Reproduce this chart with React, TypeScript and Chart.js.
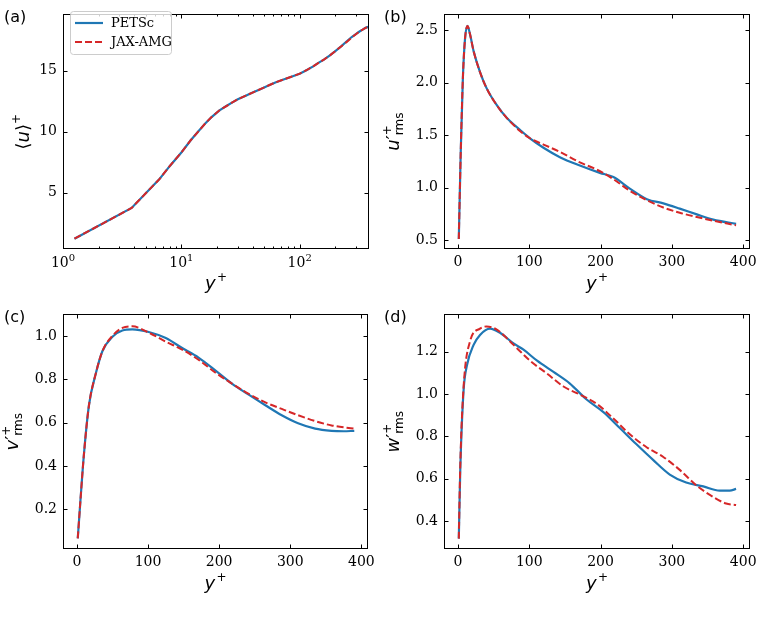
import React, { useEffect, useRef } from 'react';
import { Chart, registerables } from 'chart.js';

Chart.register(...registerables);

const BLUE = '#1f77b4';
const RED = '#d62728';
const NAME_PETSC = 'PETSc';
const NAME_JAX = 'JAX-AMG';

// (a) mean velocity profile
const yPlusMean = [1.25, 3.8, 6.5, 8, 10, 12, 14, 16, 18, 21, 24, 27, 30, 35, 40, 47, 55, 63, 72, 85, 100, 115, 130, 145, 160, 180, 200, 225, 250, 275, 300, 320, 340, 360, 385];
const uMeanPETSc = [1.24, 3.76, 6.1, 7.2, 8.3, 9.3, 10.05, 10.7, 11.2, 11.75, 12.1, 12.4, 12.65, 12.95, 13.2, 13.5, 13.8, 14.05, 14.25, 14.5, 14.75, 15.05, 15.35, 15.65, 15.9, 16.25, 16.6, 17.0, 17.4, 17.75, 18.0, 18.2, 18.35, 18.5, 18.6];
const uMeanJAX = [1.24, 3.76, 6.1, 7.2, 8.3, 9.3, 10.05, 10.7, 11.2, 11.75, 12.1, 12.4, 12.65, 12.95, 13.2, 13.5, 13.8, 14.05, 14.25, 14.5, 14.75, 15.05, 15.35, 15.65, 15.9, 16.25, 16.6, 17.0, 17.35, 17.7, 18.0, 18.2, 18.35, 18.5, 18.6];
const meanXTicks = [1, 10, 100];
const meanXTickExp = ['0', '1', '2'];
const meanXMinor = [2, 3, 4, 5, 6, 7, 8, 9, 20, 30, 40, 50, 60, 70, 80, 90, 200, 300];
const meanYTicks = [5, 10, 15];

// (b) u'rms
const yPlusUrmsPETSc = [1.25, 4, 7, 10, 13.5, 17, 22, 31, 40, 55, 69, 87, 101, 120, 143, 171, 199, 218, 241, 265, 288, 311, 335, 358, 390];
const urmsPETSc = [0.51, 1.35, 2.05, 2.42, 2.54, 2.46, 2.3, 2.1, 1.95, 1.78, 1.66, 1.55, 1.47, 1.38, 1.29, 1.21, 1.14, 1.1, 0.99, 0.89, 0.85, 0.8, 0.745, 0.695, 0.655];
const yPlusUrmsJAX = [1.25, 4, 7, 10, 13.5, 17, 22, 31, 40, 55, 69, 87, 101, 120, 143, 171, 195, 218, 241, 265, 288, 311, 335, 358, 390];
const urmsJAX = [0.51, 1.35, 2.05, 2.42, 2.54, 2.46, 2.3, 2.1, 1.95, 1.78, 1.66, 1.54, 1.47, 1.41, 1.34, 1.24, 1.17, 1.08, 0.97, 0.88, 0.81, 0.76, 0.72, 0.685, 0.64];
const urmsYTicks = [0.5, 1.0, 1.5, 2.0, 2.5];

// (c) v'rms
const yPlusVrmsPETSc = [1.25, 5, 10, 17, 26.6, 36, 50, 64, 78, 101, 125, 148, 171, 195, 218, 241, 265, 288, 311, 335, 358, 375, 390];
const vrmsPETSc = [0.066, 0.24, 0.457, 0.68, 0.826, 0.93, 0.996, 1.025, 1.03, 1.018, 0.99, 0.944, 0.9, 0.84, 0.78, 0.73, 0.68, 0.634, 0.597, 0.572, 0.562, 0.56, 0.562];
const yPlusVrmsJAX = [1.25, 5, 10, 17, 26.6, 36, 50, 64, 78, 101, 125, 148, 171, 195, 218, 241, 265, 288, 311, 335, 358, 390];
const vrmsJAX = [0.066, 0.24, 0.457, 0.68, 0.826, 0.93, 1.0, 1.037, 1.044, 1.015, 0.973, 0.937, 0.89, 0.83, 0.78, 0.734, 0.693, 0.663, 0.634, 0.607, 0.587, 0.572];
const vrmsYTicks = [0.2, 0.4, 0.6, 0.8, 1.0];

// (d) w'rms
const yPlusWrmsPETSc = [1.25, 3.3, 8, 12.6, 22, 31, 45, 59, 78, 92, 111, 134, 157, 180, 204, 227, 250, 274, 297, 320, 344, 367, 381, 390];
const wrmsPETSc = [0.317, 0.64, 1.02, 1.135, 1.233, 1.28, 1.31, 1.29, 1.24, 1.21, 1.158, 1.105, 1.05, 0.976, 0.915, 0.84, 0.764, 0.688, 0.62, 0.582, 0.564, 0.544, 0.544, 0.552];
const yPlusWrmsJAX = [1.25, 3.3, 8, 17, 31, 40, 54, 78, 101, 125, 148, 171, 195, 218, 241, 265, 288, 311, 335, 358, 376, 390];
const wrmsJAX = [0.317, 0.66, 1.036, 1.25, 1.31, 1.32, 1.306, 1.233, 1.158, 1.097, 1.036, 0.998, 0.953, 0.885, 0.81, 0.748, 0.703, 0.642, 0.567, 0.514, 0.483, 0.476];
const wrmsYTicks = [0.4, 0.6, 0.8, 1.0, 1.2];

const linearXTicks = [0, 100, 200, 300, 400];

type Piece = { t: string; font: string; dy: number };
type Seg = Piece | { stack: Piece[] };

const MATH = '"DejaVu Sans"';
const SERIF = '"DejaVu Serif"';
const TITLE = 18;
const SUP = 12;

function pieceW(ctx: CanvasRenderingContext2D, p: Piece) {
  ctx.font = p.font;
  return ctx.measureText(p.t).width;
}
function segW(ctx: CanvasRenderingContext2D, s: Seg) {
  if ('stack' in s) return Math.max(...s.stack.map((p) => pieceW(ctx, p)));
  return pieceW(ctx, s);
}
function drawSegs(ctx: CanvasRenderingContext2D, segs: Seg[], cx: number, cy: number, rot: boolean) {
  ctx.save();
  ctx.translate(cx, cy);
  if (rot) ctx.rotate(-Math.PI / 2);
  const total = segs.reduce((a, s) => a + segW(ctx, s), 0);
  let x = -total / 2;
  ctx.textAlign = 'left';
  ctx.textBaseline = 'alphabetic';
  ctx.fillStyle = '#000';
  for (const s of segs) {
    const w = segW(ctx, s);
    const pieces = 'stack' in s ? s.stack : [s];
    for (const p of pieces) {
      ctx.font = p.font;
      ctx.fillText(p.t, x, p.dy);
    }
    x += w;
  }
  ctx.restore();
}

const it = (size: number) => `italic ${size}px ${MATH}`;
const up = (size: number) => `${size}px ${MATH}`;

const xTitle: Seg[] = [
  { t: 'y', font: it(TITLE), dy: 0 },
  { t: ' ', font: up(4), dy: 0 },
  { t: '+', font: up(SUP), dy: -8 },
];
const rmsTitle = (letter: string): Seg[] => [
  { t: letter, font: it(TITLE), dy: 0 },
  { t: '′', font: up(TITLE), dy: 0 },
  { stack: [
    { t: '+', font: up(SUP), dy: -8 },
    { t: 'rms', font: up(SUP), dy: 4 },
  ] },
];
const meanTitle: Seg[] = [
  { t: '⟨', font: up(TITLE), dy: 0 },
  { t: 'u', font: it(TITLE), dy: 0 },
  { t: '⟩', font: up(TITLE), dy: 0 },
  { t: '+', font: up(SUP), dy: -9 },
];

type Series = { name: string; x: number[]; y: number[]; color: string; dashed: boolean };
type PanelCfg = {
  left: number; top: number; width: number; height: number;
  yAxisWidth: number; rightPad: number;
  xLog: boolean; xMin: number; xMax: number; yMin: number; yMax: number;
  xTicks: number[]; xMinor: number[]; yTicks: number[]; yDecimals: number;
  label: string; yTitle: Seg[]; yTitleX: number; legend: boolean; smooth: boolean;
  series: Series[];
};

function drawDeco(chart: any, cfg: PanelCfg) {
  const ctx: CanvasRenderingContext2D = chart.ctx;
  const a = chart.chartArea;
  const xs = chart.scales.x;
  const ys = chart.scales.y;
  ctx.save();
  ctx.strokeStyle = '#000';
  ctx.lineWidth = 1;
  const L = Math.round(a.left) + 0.5;
  const R = Math.round(a.right) - 0.5;
  const T = Math.round(a.top) + 0.5;
  const B = Math.round(a.bottom) - 0.5;
  const line = (x1: number, y1: number, x2: number, y2: number) => {
    ctx.beginPath();
    ctx.moveTo(x1, y1);
    ctx.lineTo(x2, y2);
    ctx.stroke();
  };
  const xt = (vals: number[], len: number) => {
    for (const v of vals) {
      const p = Math.round(xs.getPixelForValue(v)) + 0.5;
      if (p < a.left - 0.5 || p > a.right + 0.5) continue;
      line(p, B, p, B - len);
      line(p, T, p, T + len);
    }
  };
  xt(cfg.xTicks, 4);
  xt(cfg.xMinor, 2);
  for (const v of cfg.yTicks) {
    const p = Math.round(ys.getPixelForValue(v)) + 0.5;
    line(L, p, L + 4, p);
    line(R, p, R - 4, p);
  }
  ctx.strokeRect(L, T, R - L, B - T);

  // log axis labels
  if (cfg.xLog) {
    ctx.fillStyle = '#000';
    ctx.textBaseline = 'top';
    ctx.textAlign = 'left';
    cfg.xTicks.forEach((v, i) => {
      const p = xs.getPixelForValue(v);
      ctx.font = `14px ${SERIF}`;
      const w1 = ctx.measureText('10').width;
      ctx.font = `10px ${SERIF}`;
      const w2 = ctx.measureText(meanXTickExp[i]).width;
      const s = p - (w1 + w2) / 2;
      ctx.font = `14px ${SERIF}`;
      ctx.fillText('10', s, a.bottom + 7);
      ctx.font = `10px ${SERIF}`;
      ctx.fillText(meanXTickExp[i], s + w1, a.bottom + 4);
    });
  }

  // panel label
  ctx.fillStyle = '#000';
  ctx.font = `16px ${MATH}`;
  ctx.textAlign = 'left';
  ctx.textBaseline = 'alphabetic';
  ctx.fillText(cfg.label, 4, 22);

  // titles
  drawSegs(ctx, xTitle, (a.left + a.right) / 2, 289, false);
  drawSegs(ctx, cfg.yTitle, cfg.yTitleX, (a.top + a.bottom) / 2, true);

  // legend
  if (cfg.legend) {
    ctx.beginPath();
    (ctx as any).roundRect(70.5, 11.5, 101, 43, 3);
    ctx.fillStyle = 'rgba(255,255,255,0.8)';
    ctx.fill();
    ctx.strokeStyle = '#cccccc';
    ctx.lineWidth = 1;
    ctx.stroke();
    const rows = [
      { s: cfg.series[0], y: 23 },
      { s: cfg.series[1], y: 42 },
    ];
    for (const r of rows) {
      ctx.strokeStyle = r.s.color;
      ctx.lineWidth = r.s.dashed ? 2 : 2.2;
      ctx.setLineDash(r.s.dashed ? [7, 3] : []);
      line(75, r.y, 103, r.y);
      ctx.setLineDash([]);
      ctx.fillStyle = '#000';
      ctx.font = `13px ${SERIF}`;
      ctx.textBaseline = 'middle';
      ctx.fillText(r.s.name, 111, r.y + 1);
    }
  }
  ctx.restore();
}

function Panel({ cfg }: { cfg: PanelCfg }) {
  const ref = useRef<HTMLCanvasElement>(null);
  useEffect(() => {
    const canvas = ref.current!;
    const chart = new Chart(canvas, {
      type: 'line',
      data: {
        datasets: cfg.series.map((s) => ({
          label: s.name,
          data: s.x.map((x, j) => ({ x, y: s.y[j] })),
          borderColor: s.color,
          backgroundColor: s.color,
          borderWidth: s.dashed ? 2 : 2.2,
          borderDash: s.dashed ? [7, 3] : [],
          pointRadius: 0,
          cubicInterpolationMode: cfg.smooth ? 'monotone' : 'default',
          tension: 0,
          fill: false,
          order: s.dashed ? 0 : 1,
        })),
      },
      options: {
        animation: false,
        responsive: false,
        devicePixelRatio: 1,
        events: [],
        layout: { padding: { left: 0, top: 5, right: cfg.rightPad, bottom: 0 } },
        plugins: { legend: { display: false }, tooltip: { enabled: false }, title: { display: false } },
        scales: {
          x: {
            type: cfg.xLog ? 'logarithmic' : 'linear',
            min: cfg.xMin,
            max: cfg.xMax,
            afterBuildTicks: (s: any) => { s.ticks = cfg.xTicks.map((v) => ({ value: v })); },
            afterFit: (s: any) => { s.height = 51; },
            grid: { display: false, drawTicks: false },
            border: { display: false },
            ticks: {
              display: !cfg.xLog,
              font: { family: 'DejaVu Serif', size: 14 },
              color: '#000',
              padding: 5,
              maxRotation: 0,
              minRotation: 0,
              autoSkip: false,
              callback: (v: any) => String(v),
            },
          },
          y: {
            type: 'linear',
            min: cfg.yMin,
            max: cfg.yMax,
            afterBuildTicks: (s: any) => { s.ticks = cfg.yTicks.map((v) => ({ value: v })); },
            afterFit: (s: any) => { s.width = cfg.yAxisWidth; },
            grid: { display: false, drawTicks: false },
            border: { display: false },
            ticks: {
              font: { family: 'DejaVu Serif', size: 14 },
              color: '#000',
              padding: 6,
              autoSkip: false,
              callback: (v: any) => Number(v).toFixed(cfg.yDecimals),
            },
          },
        },
      } as any,
      plugins: [{ id: 'deco', afterDraw: (c: any) => drawDeco(c, cfg) }],
    });
    return () => chart.destroy();
  }, [cfg]);
  return (
    <canvas
      ref={ref}
      width={cfg.width}
      height={cfg.height}
      style={{ position: 'absolute', left: cfg.left, top: cfg.top, width: cfg.width, height: cfg.height }}
    />
  );
}

const pair = (xp: number[], yp: number[], xj: number[], yj: number[]): Series[] => [
  { name: NAME_PETSC, x: xp, y: yp, color: BLUE, dashed: false },
  { name: NAME_JAX, x: xj, y: yj, color: RED, dashed: true },
];

const panels: PanelCfg[] = [
  {
    left: 0, top: 0, width: 380, height: 300, yAxisWidth: 63, rightPad: 11,
    xLog: true, xMin: 1, xMax: 385, yMin: 0.4, yMax: 19.6,
    xTicks: meanXTicks, xMinor: meanXMinor, yTicks: meanYTicks, yDecimals: 0,
    label: '(a)', yTitle: meanTitle, yTitleX: 29, legend: true, smooth: false,
    series: pair(yPlusMean, uMeanPETSc, yPlusMean, uMeanJAX),
  },
  {
    left: 380, top: 0, width: 385, height: 300, yAxisWidth: 64, rightPad: 15,
    xLog: false, xMin: -19.5, xMax: 409.5, yMin: 0.415, yMax: 2.65,
    xTicks: linearXTicks, xMinor: [], yTicks: urmsYTicks, yDecimals: 1,
    label: '(b)', yTitle: rmsTitle('u'), yTitleX: 19, legend: false, smooth: true,
    series: pair(yPlusUrmsPETSc, urmsPETSc, yPlusUrmsJAX, urmsJAX),
  },
  {
    left: 0, top: 300, width: 380, height: 300, yAxisWidth: 63, rightPad: 11,
    xLog: false, xMin: -19.5, xMax: 409.5, yMin: 0.017, yMax: 1.099,
    xTicks: linearXTicks, xMinor: [], yTicks: vrmsYTicks, yDecimals: 1,
    label: '(c)', yTitle: rmsTitle('v'), yTitleX: 18, legend: false, smooth: true,
    series: pair(yPlusVrmsPETSc, vrmsPETSc, yPlusVrmsJAX, vrmsJAX),
  },
  {
    left: 380, top: 300, width: 385, height: 300, yAxisWidth: 64, rightPad: 15,
    xLog: false, xMin: -19.5, xMax: 409.5, yMin: 0.268, yMax: 1.377,
    xTicks: linearXTicks, xMinor: [], yTicks: wrmsYTicks, yDecimals: 1,
    label: '(d)', yTitle: rmsTitle('w'), yTitleX: 19, legend: false, smooth: true,
    series: pair(yPlusWrmsPETSc, wrmsPETSc, yPlusWrmsJAX, wrmsJAX),
  },
];

export default function App() {
  return (
    <div style={{ position: 'absolute', left: 0, top: 0, width: 765, height: 637, background: '#fff' }}>
      {panels.map((p) => (
        <Panel key={p.label} cfg={p} />
      ))}
    </div>
  );
}
